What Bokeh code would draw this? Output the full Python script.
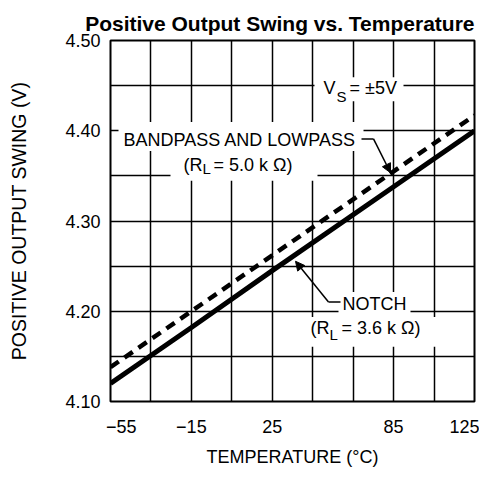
from bokeh.plotting import figure
from bokeh.models import Range1d, FixedTicker, NumeralTickFormatter, Arrow, NormalHead
from bokeh.core.properties import value
from bokeh.embed import file_html
from bokeh.resources import INLINE

# ---- data ----
temperature = [-55, -15, 25, 85, 125]
bandpass_lowpass = [4.138, 4.200, 4.262, 4.355, 4.417]   # dashed, RL = 5.0 kOhm
notch = [4.120, 4.182, 4.245, 4.338, 4.400]              # solid, RL = 3.6 kOhm

x_tick_values = [-55, -15, 25, 85, 125]
x_grid_values = [-55, -35, -15, 5, 25, 45, 65, 85, 105, 125]
y_tick_values = [4.10, 4.20, 4.30, 4.40, 4.50]
y_grid_values = [4.10, 4.15, 4.20, 4.25, 4.30, 4.35, 4.40, 4.45, 4.50]

title_text = "Positive Output Swing vs. Temperature"
x_label = "TEMPERATURE (°C)"
y_label = "POSITIVE OUTPUT SWING (V)"

X0, X1 = -55, 125
Y0, Y1 = 4.10, 4.50

FONT = "Liberation Sans"
FS = "18px"
SUBFS = "15px"

W, H = 479, 469
FL, FR, FT, FB = 110, 474, 40, 403   # frame edges in page pixels


def dx(px):
    return X0 + (px - FL) * (X1 - X0) / (FR - FL)


def dy(py):
    return Y0 + (FB - py) * (Y1 - Y0) / (FB - FT)


p = figure(width=W, height=H,
           x_range=Range1d(X0, X1), y_range=Range1d(Y0, Y1),
           output_backend="svg", toolbar_location=None,
           title=title_text,
           min_border_left=FL, min_border_right=W - FR,
           min_border_top=FT, min_border_bottom=H - FB)

p.background_fill_color = "white"
p.border_fill_color = "white"
p.outline_line_color = "black"
p.outline_line_width = 2
p.outline_line_alpha = 1

p.title.align = "right"
p.title.text_font = FONT
p.title.text_font_size = "21px"
p.title.text_font_style = "bold"
p.title.text_color = "black"
p.title.standoff = 11

# grids
p.xgrid.ticker = FixedTicker(ticks=x_grid_values)
p.ygrid.ticker = FixedTicker(ticks=y_grid_values)
for g in (p.xgrid, p.ygrid):
    g.grid_line_color = "black"
    g.grid_line_width = 1.5
    g.grid_line_alpha = 1

# axes
p.xaxis.ticker = FixedTicker(ticks=x_tick_values)
overrides = {t: str(t).replace("-", "\u2212") for t in x_tick_values}
overrides[x_tick_values[0]] = "\u2003\u2009" + overrides[x_tick_values[0]]
p.xaxis.major_label_overrides = overrides
p.yaxis.ticker = FixedTicker(ticks=y_tick_values)
p.yaxis.formatter = NumeralTickFormatter(format="0.00")
p.xaxis.axis_label = x_label
p.yaxis.axis_label = y_label
for ax in (p.xaxis, p.yaxis):
    ax.axis_line_color = None
    ax.major_tick_line_color = None
    ax.minor_tick_line_color = None
    ax.major_tick_out = 0
    ax.major_tick_in = 0
    ax.major_label_text_font = FONT
    ax.major_label_text_font_size = FS
    ax.major_label_text_color = "black"
    ax.axis_label_text_font = FONT
    ax.axis_label_text_font_size = FS
    ax.axis_label_text_font_style = "normal"
    ax.axis_label_text_color = "black"
p.yaxis.axis_label_text_font_size = "19.5px"
p.xaxis.major_label_standoff = 15
p.xaxis.axis_label_standoff = 7
p.yaxis.major_label_standoff = 10
p.yaxis.axis_label_standoff = 32

# white boxes behind the annotation texts (they interrupt the grid)
boxes_px = [(314, 403, 77, 101),    # VS
            (118, 363, 122, 151),   # BANDPASS AND LOWPASS
            (170, 317, 151, 181),   # (RL = 5.0 k)
            (338, 410, 293, 318),   # NOTCH
            (305, 440, 318, 348)]   # (RL = 3.6 k)
p.quad(left=[dx(b[0]) for b in boxes_px], right=[dx(b[1]) for b in boxes_px],
       top=[dy(b[2]) for b in boxes_px], bottom=[dy(b[3]) for b in boxes_px],
       fill_color="white", line_color=None)

# data lines
p.line(temperature, notch, line_color="black", line_width=5)
p.line(temperature, bandpass_lowpass, line_color="black", line_width=4.5, line_dash="10 7")

# annotation texts (pixel anchor: left, vertical middle)
main_px = [(323, 87.5, "V"), (349, 87.5, "= \u00b15V"),
           (123, 140, "BANDPASS AND LOWPASS"),
           (183, 165, "(R"), (213, 165, "= 5.0 k \u03a9)"),
           (342, 304.5, "NOTCH"),
           (310, 329, "(R"), (341, 329, "= 3.6 k \u03a9)")]
p.text(x=[dx(m[0]) for m in main_px], y=[dy(m[1]) for m in main_px],
       text=[m[2] for m in main_px], text_font=value(FONT), text_font_size=FS,
       text_align="left", text_baseline="middle", text_color="black")

sub_px = [(336, 96, "S"), (202, 169, "L"), (329, 336, "L")]
p.text(x=[dx(m[0]) for m in sub_px], y=[dy(m[1]) for m in sub_px],
       text=[m[2] for m in sub_px], text_font=value(FONT), text_font_size=SUBFS,
       text_align="left", text_baseline="middle", text_color="black")

# leader lines and arrows
p.segment(x0=[dx(361), dx(328)], y0=[dy(139), dy(303)],
          x1=[dx(373), dx(340)], y1=[dy(139), dy(303)],
          line_color="black", line_width=1.5)
p.add_layout(Arrow(end=NormalHead(size=9, fill_color="black", line_color="black"),
                   x_start=dx(373), y_start=dy(139), x_end=dx(390), y_end=dy(173),
                   line_color="black", line_width=1.5))
p.add_layout(Arrow(end=NormalHead(size=9, fill_color="black", line_color="black"),
                   x_start=dx(328), y_start=dy(303), x_end=dx(295), y_end=dy(262),
                   line_color="black", line_width=1.5))

open("out.html", "w").write(file_html(p, INLINE))
